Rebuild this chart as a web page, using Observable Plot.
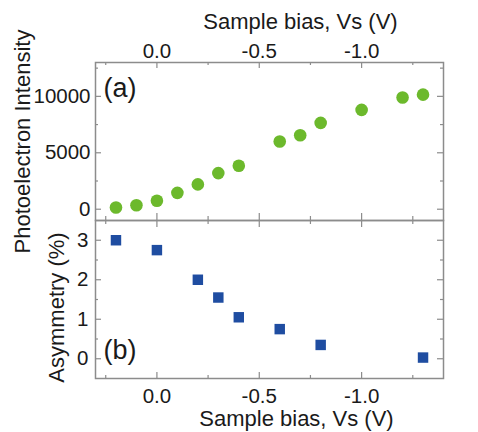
<!DOCTYPE html>
<html>
<head>
<meta charset="utf-8">
<script src="https://cdn.jsdelivr.net/npm/d3@7"></script>
<script src="https://cdn.jsdelivr.net/npm/@observablehq/plot@0.6"></script>
<style>
  html, body { margin: 0; padding: 0; background: white; }
  #chart { position: relative; width: 478px; height: 432px; font-family: "Liberation Sans", Arial, sans-serif; }
  #chart svg { position: absolute; left: 0; }
</style>
</head>
<body>
<div id="chart"></div>
<script>
// ---- data ----
const biasA = [0.2, 0.1, 0.0, -0.1, -0.2, -0.3, -0.4, -0.6, -0.7, -0.8, -1.0, -1.2, -1.3];
const intensity = [150, 350, 750, 1450, 2200, 3200, 3850, 6000, 6550, 7650, 8800, 9900, 10150];
const biasB = [0.2, 0.0, -0.2, -0.3, -0.4, -0.6, -0.8, -1.3];
const asymmetry = [3.0, 2.75, 2.0, 1.55, 1.05, 0.75, 0.35, 0.03];

const xMajor = [0, -0.5, -1.0];
const xMinor = [0.25, -0.25, -0.75, -1.25];
const intMajor = [0, 5000, 10000];
const intMinor = [2500, 7500, 12500];
const asymMajor = [0, 1, 2, 3];
const asymMinor = [0.5, 1.5, 2.5];

const xTitle = "Sample bias, Vs (V)";
const yTitleA = "Photoelectron Intensity";
const yTitleB = "Asymmetry (%)";

// ---- layout / style ----
const W = 478, mL = 95, mR = 35;
const plotW = W - mL - mR;
const plotH = 158;
const gray = "#8c8c8c";
const textColor = "#1a1a1a";
const tickFont = 20.5, titleFont = 22, panelFont = 27;
const fmt = d => d.toFixed(1);

const tableA = biasA.map((b, i) => ({bias: b, value: intensity[i]}));
const tableB = biasB.map((b, i) => ({bias: b, value: asymmetry[i]}));

function xTicks(values, len, edge) {
  return Plot.tickX(values, {
    x: d => d, stroke: gray, strokeWidth: 1.2,
    insetTop: edge === "bottom" ? plotH - len : 0,
    insetBottom: edge === "top" ? plotH - len : 0
  });
}
function yTicks(values, len, edge) {
  return Plot.tickY(values, {
    y: d => d, stroke: gray, strokeWidth: 1.2,
    insetLeft: edge === "right" ? plotW - len : 0,
    insetRight: edge === "left" ? plotW - len : 0
  });
}

const xScale = {domain: [0.3, -1.4]};
const svgStyle = {overflow: "visible", background: "transparent", color: textColor, fontFamily: "'Liberation Sans', Arial, sans-serif"};

const panelA = Plot.plot({
  width: W, height: 62 + plotH,
  marginTop: 62, marginBottom: 0, marginLeft: mL, marginRight: mR,
  style: svgStyle,
  x: {...xScale, axis: null},
  y: {domain: [-1000, 13000], axis: null},
  marks: [
    xTicks(xMajor, 6, "top"), xTicks(xMinor, 3, "top"),
    xTicks(xMajor, 7, "bottom"), xTicks(xMinor, 4, "bottom"),
    yTicks(intMajor, 6, "left"), yTicks(intMinor, 3, "left"),
    yTicks(intMajor, 6, "right"), yTicks(intMinor, 3, "right"),
    Plot.frame({stroke: gray, strokeWidth: 1.5}),
    Plot.axisX({anchor: "top", ticks: xMajor, tickSize: 0, tickPadding: 5, tickFormat: fmt, fontSize: tickFont, label: null}),
    Plot.axisY({anchor: "left", ticks: intMajor, tickSize: 0, tickPadding: 5, tickFormat: d => String(d), fontSize: tickFont, label: null}),
    Plot.dot(tableA, {x: "bias", y: "value", r: 6.3, fill: "#6cb92c"}),
    Plot.text([xTitle], {frameAnchor: "top", text: d => d, dx: 31, dy: -34, lineAnchor: "bottom", fontSize: titleFont, fill: textColor}),
    Plot.text([yTitleA], {frameAnchor: "left", text: d => d, rotate: -90, dx: -73, lineAnchor: "middle", textAnchor: "middle", fontSize: titleFont, fill: textColor}),
    Plot.text(["(a)"], {frameAnchor: "top-left", text: d => d, dx: 8, dy: 15, lineAnchor: "top", textAnchor: "start", fontSize: panelFont, fill: textColor})
  ]
});
panelA.style.top = "0px";

const panelB = Plot.plot({
  width: W, height: plotH + 54,
  marginTop: 0, marginBottom: 54, marginLeft: mL, marginRight: mR,
  style: svgStyle,
  x: {...xScale, axis: null},
  y: {domain: [-0.5, 3.5], axis: null},
  marks: [
    xTicks(xMajor, 7, "top"), xTicks(xMinor, 4, "top"),
    xTicks(xMajor, 6, "bottom"), xTicks(xMinor, 3, "bottom"),
    yTicks(asymMajor, 6, "left"), yTicks(asymMinor, 3, "left"),
    yTicks(asymMajor, 6, "right"), yTicks(asymMinor, 3, "right"),
    Plot.frame({stroke: gray, strokeWidth: 1.5}),
    Plot.axisX({anchor: "bottom", ticks: xMajor, tickSize: 0, tickPadding: 10, tickFormat: fmt, fontSize: tickFont, label: null}),
    Plot.axisY({anchor: "left", ticks: asymMajor, tickSize: 0, tickPadding: 7, tickFormat: d => String(d), fontSize: tickFont, label: null}),
    Plot.dot(tableB, {x: "bias", y: "value", r: 5.9, symbol: "square", fill: "#1f4da1"}),
    Plot.text([xTitle], {frameAnchor: "bottom", text: d => d, dx: 27, dy: 47, lineAnchor: "bottom", fontSize: titleFont, fill: textColor}),
    Plot.text([yTitleB], {frameAnchor: "left", text: d => d, rotate: -90, dx: -39, dy: 8, lineAnchor: "middle", textAnchor: "middle", fontSize: titleFont, fill: textColor}),
    Plot.text(["(b)"], {frameAnchor: "bottom-left", text: d => d, dx: 8, dy: -20, lineAnchor: "bottom", textAnchor: "start", fontSize: panelFont, fill: textColor})
  ]
});
panelB.style.top = (62 + plotH) + "px";

const chart = document.getElementById("chart");
chart.appendChild(panelA);
chart.appendChild(panelB);
</script>
</body>
</html>
